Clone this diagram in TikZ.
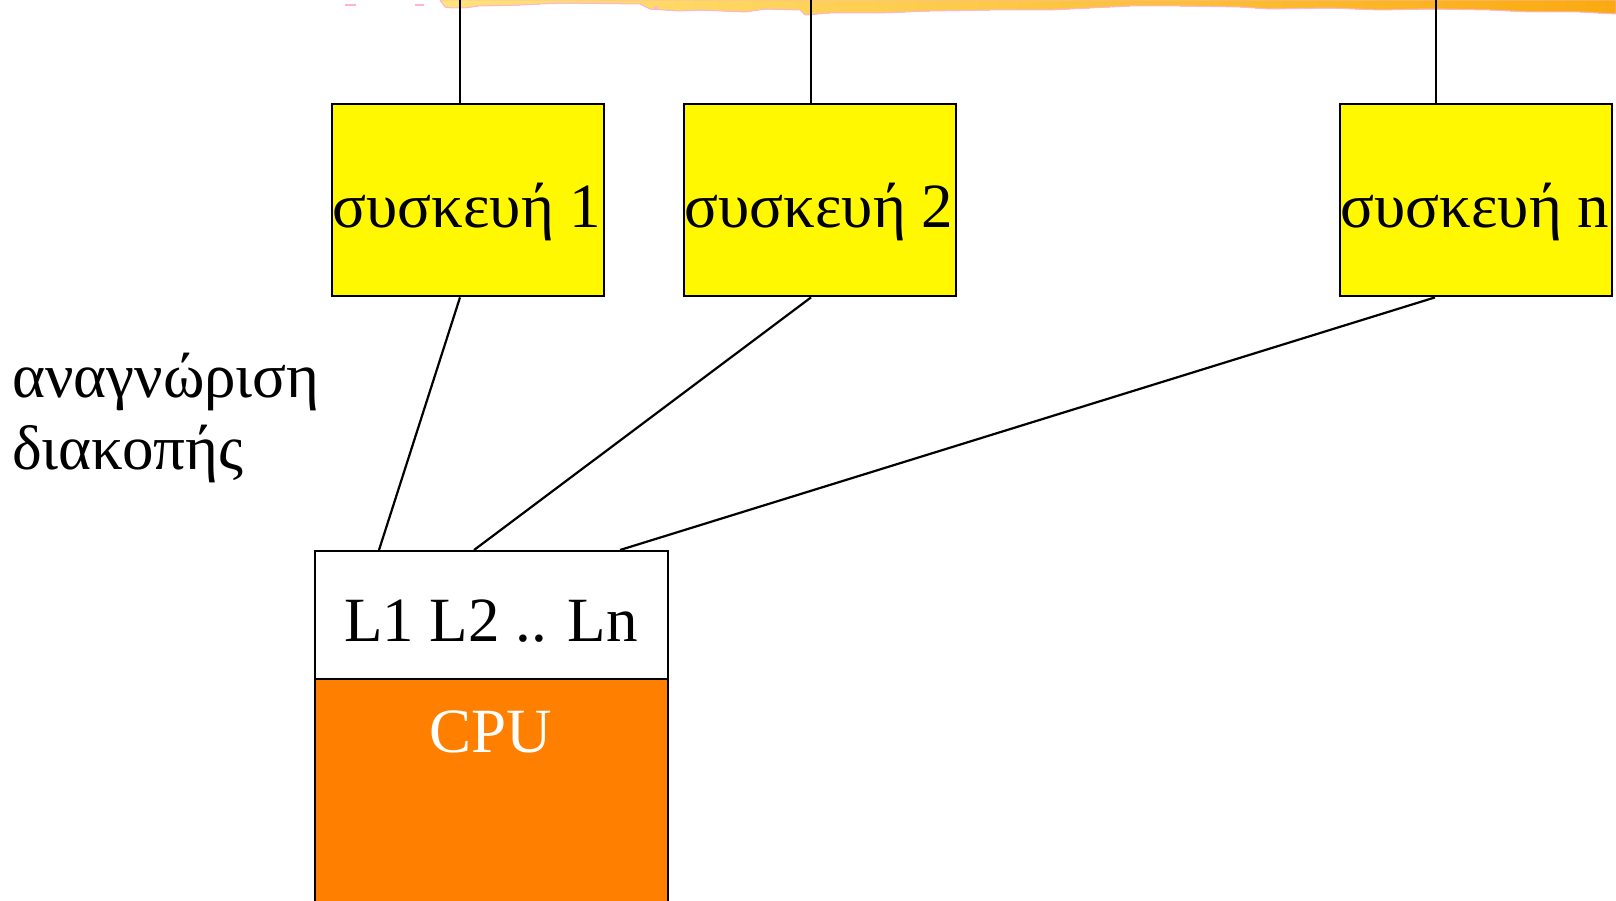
\documentclass[tikz,border=0pt]{standalone}
\usepackage{fontspec}
\setmainfont{Liberation Serif}
\definecolor{devyellow}{RGB}{255,248,0}
\definecolor{cpuorange}{RGB}{255,127,0}
\definecolor{brushlight}{RGB}{255,228,120}
\definecolor{brushmid}{RGB}{255,196,40}
\definecolor{brushdark}{RGB}{250,170,16}
\definecolor{brushpink}{RGB}{255,180,210}
\begin{document}
\begin{tikzpicture}[x=1pt,y=-1pt,
  devbox/.style={draw=black,line width=2.4pt,fill=devyellow,minimum width=272pt,minimum height=192pt,inner sep=0pt,anchor=north west},
  txt/.style={anchor=base,inner sep=0pt,font=\fontsize{63}{72}\selectfont},
  link/.style={draw=black,line width=2.2pt},
  lab/.style={anchor=base west,inner sep=0pt,font=\fontsize{63}{72}\selectfont}]
\useasboundingbox (0,0) rectangle (1616,901);
% brush strip at top
\fill[left color=brushlight,middle color=brushmid,right color=brushdark,draw=brushpink,line width=1pt]
  (440,0) -- (445,7) -- (452,8) -- (465,8) -- (478,6) -- (520,5) -- (560,3) -- (640,4) -- (650,9) -- (680,11) -- (700,10)
  -- (745,12) -- (765,9) -- (800,10) -- (805,15) -- (830,13) -- (880,13) -- (930,11) -- (990,10) -- (1050,10) -- (1090,8)
  -- (1130,6) -- (1180,6) -- (1240,7) -- (1270,9) -- (1330,8) -- (1380,10) -- (1430,9) -- (1490,10) -- (1530,12)
  -- (1580,12) -- (1616,14) -- (1616,0) -- cycle;
\fill[brushpink] (345,4) rectangle (356,6);
\fill[brushpink] (415,4) rectangle (424,6);
\fill[brushpink] (654,6) rectangle (658,9);
% top connection points
\coordinate (t1) at (460,0);
\coordinate (t2) at (811,0);
\coordinate (tn) at (1436,0);
% devices
\node[devbox] (d1) at (331,103) {};
\node[devbox] (d2) at (683,103) {};
\node[devbox] (dn) at (1339,103) {};
\node[txt] (d1t) at (467,228) {συσκευή 1};
\node[txt] (d2t) at (819,228) {συσκευή 2};
\node[txt] (dnt) at (1475,228) {συσκευή n};
% CPU
\node[draw=black,line width=2.4pt,fill=cpuorange,minimum width=353pt,minimum height=260pt,anchor=north west,inner sep=0pt] (cpu) at (314,678) {};
\node[draw=black,line width=2.4pt,fill=white,minimum width=353pt,minimum height=128pt,anchor=north west,inner sep=0pt] (lines) at (314,550) {};
\node[txt] (linest) at (491,641) {L1 L2 .. Ln};
\node[txt,text=white] (cput) at (491,752) {CPU};
% label
\node[lab] (ack1) at (12,397) {αναγνώριση};
\node[lab] (ack2) at (12,469) {διακοπής};
% connectors
\draw[link] (t1) -- (d1.north west -| t1);
\draw[link] (t2) -- (d2.north west -| t2);
\draw[link] (tn) -- (dn.north west -| tn);
\draw[link] (d1.south west -| t1) -- (lines.north west -| 379,0);
\draw[link] (d2.south west -| t2) -- (lines.north west -| 474,0);
\draw[link] (dn.south west -| 1435,0) -- (lines.north west -| 620,0);
\end{tikzpicture}
\end{document}
